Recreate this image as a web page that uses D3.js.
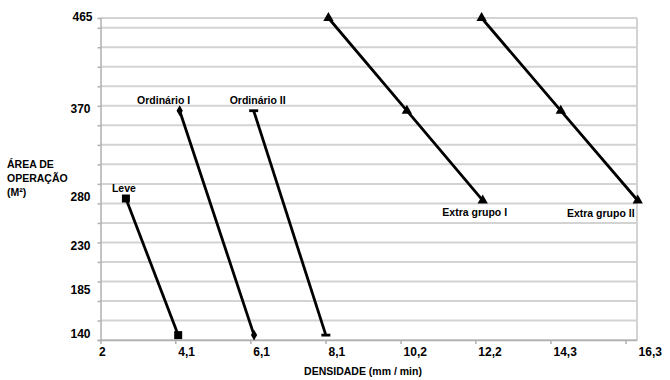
<!DOCTYPE html>
<html>
<head>
<meta charset="utf-8">
<script src="https://d3js.org/d3.v7.min.js"></script>
<style>
  body { margin: 0; background: #fff; }
  svg { font-family: "Liberation Sans", Arial, sans-serif; }
  .tick-label { font-size: 12px; font-weight: bold; fill: #000; }
  .axis-title, .series-label { font-size: 10.5px; font-weight: bold; fill: #000; }
</style>
</head>
<body>
<svg id="chart"></svg>
<script>
// series: densidade (mm/min) and área (m²)
const seriesNames = ['Leve', 'Ordinário I', 'Ordinário II', 'Extra grupo I', 'Extra grupo II'];
const seriesDensity = [
  [2.73, 4.15],
  [4.19, 6.21],
  [6.20, 8.16],
  [8.23, 10.36, 12.42],
  [12.39, 14.54, 16.63]
];
const seriesArea = [
  [280, 140],
  [370, 140],
  [370, 140],
  [465, 370, 278],
  [465, 370, 278]
];
const seriesMarkers = ['square', 'diamond', 'dash', 'triangle', 'triangle'];

const xTickValues = [2.04, 4.07, 6.11, 8.15, 10.19, 12.22, 14.26, 16.30];
const xTickLabels = ['2', '4,1', '6,1', '8,1', '10,2', '12,2', '14,3', '16,3'];
const yTickValues = [140, 185, 230, 280, 370, 465];
const yTickLabels = ['140', '185', '230', '280', '370', '465'];
const xDomain = [2.04, 16.61];
const yDomain = [135, 465];
const yGridStep = 20;

class DensityChart {

  constructor(_config) {
    this.config = {
      parentElement: _config.parentElement,
      containerWidth: _config.containerWidth || 670,
      containerHeight: _config.containerHeight || 380,
      margin: _config.margin || {top: 18, right: 33, bottom: 40, left: 100.5}
    }
    this.initVis();
  }

  initVis() {
    let vis = this;

    vis.width = vis.config.containerWidth - vis.config.margin.left - vis.config.margin.right;
    vis.height = vis.config.containerHeight - vis.config.margin.top - vis.config.margin.bottom;

    vis.xScale = d3.scaleLinear()
        .domain(xDomain)
        .range([0, vis.width]);

    vis.yScale = d3.scaleLinear()
        .domain(yDomain)
        .range([vis.height, 0]);

    vis.svg = d3.select(vis.config.parentElement)
        .attr('width', vis.config.containerWidth)
        .attr('height', vis.config.containerHeight);

    vis.chart = vis.svg.append('g')
        .attr('transform', `translate(${vis.config.margin.left},${vis.config.margin.top})`);

    // horizontal gridlines every 20 m² from the bottom of the axis
    const gridValues = d3.range(yDomain[0], yDomain[1], yGridStep);
    vis.chart.append('g')
        .attr('class', 'grid')
      .selectAll('line')
      .data(gridValues.concat([yDomain[1]]))
      .join('line')
        .attr('x1', 0)
        .attr('x2', vis.width)
        .attr('y1', d => vis.yScale(d))
        .attr('y2', d => vis.yScale(d))
        .attr('stroke', '#d3d3d3')
        .attr('stroke-width', 2);

    // right border of the plot area
    vis.chart.append('line')
        .attr('x1', vis.width).attr('x2', vis.width)
        .attr('y1', 0).attr('y2', vis.height)
        .attr('stroke', '#d3d3d3')
        .attr('stroke-width', 2);

    vis.yAxisG = vis.chart.append('g')
        .call(d3.axisLeft(vis.yScale).tickValues(gridValues).tickSize(3).tickFormat(''))
        .call(g => g.selectAll('line, path').attr('stroke', '#b0b0b0').attr('stroke-width', 1.5));

    vis.xAxisG = vis.chart.append('g')
        .attr('transform', `translate(0,${vis.height})`)
        .call(d3.axisBottom(vis.xScale).tickValues(xTickValues).tickSize(4).tickSizeOuter(0).tickFormat(''))
        .call(g => g.selectAll('line, path').attr('stroke', '#b0b0b0').attr('stroke-width', 1.5));

    // tick labels
    vis.chart.append('g')
      .selectAll('text')
      .data(xTickValues)
      .join('text')
        .attr('class', 'tick-label')
        .attr('x', (d, i) => vis.xScale(d) + (i === 0 ? -1.5 : i === xTickValues.length - 1 ? 13 : 3))
        .attr('y', vis.height + 16)
        .text((d, i) => xTickLabels[i]);

    vis.chart.append('g')
      .selectAll('text')
      .data(yTickValues)
      .join('text')
        .attr('class', 'tick-label')
        .attr('text-anchor', 'end')
        .attr('x', (d, i) => i === yTickValues.length - 1 ? -8 : -10)
        .attr('y', d => vis.yScale(d) + 2.5)
        .text((d, i) => yTickLabels[i]);

    // axis titles
    vis.svg.append('text')
        .attr('class', 'axis-title')
        .attr('x', 363)
        .attr('y', 375)
        .attr('text-anchor', 'middle')
        .text('DENSIDADE (mm / min)');

    const yTitle = vis.svg.append('text')
        .attr('class', 'axis-title')
        .attr('x', 7)
        .attr('y', 167.5);
    ['ÁREA DE', 'OPERAÇÃO', '(M²)'].forEach((t, i) => {
      yTitle.append('tspan').attr('x', 7).attr('dy', i === 0 ? 0 : 14.3).text(t);
    });

    vis.dataGroup = vis.chart.append('g');
  }

  renderVis() {
    let vis = this;

    const data = seriesNames.map((name, i) => ({
      name: name,
      marker: seriesMarkers[i],
      points: seriesDensity[i].map((x, j) => ({x: x, y: seriesArea[i][j]}))
    }));

    const line = d3.line()
        .x(d => vis.xScale(d.x))
        .y(d => vis.yScale(d.y));

    vis.dataGroup.selectAll('.series-line')
        .data(data)
      .join('path')
        .attr('class', 'series-line')
        .attr('fill', 'none')
        .attr('stroke', '#000')
        .attr('stroke-width', 2.8)
        .attr('d', d => line(d.points));

    const dash = {
      draw(context, size) {
        context.rect(-4.5, -1.4, 9, 2.8);
      }
    };
    const symbolTypes = {
      square: [d3.symbolSquare, 64],
      diamond: [d3.symbolDiamond, 34],
      dash: [dash, 1],
      triangle: [d3.symbolTriangle, 46]
    };

    vis.dataGroup.selectAll('.markers')
        .data(data)
      .join('g')
        .attr('class', 'markers')
      .selectAll('path')
      .data(d => d.points.map(p => ({p: p, marker: d.marker})))
      .join('path')
        .attr('transform', d => `translate(${vis.xScale(d.p.x)},${vis.yScale(d.p.y)})`)
        .attr('d', d => d3.symbol(symbolTypes[d.marker][0], symbolTypes[d.marker][1])())
        .attr('fill', '#000');

    // series labels, hung on one point of each line
    const labelAt = [
      {point: 0, dx: -2, dy: -7},
      {point: 0, dx: -16, dy: -7},
      {point: 0, dx: 4, dy: -7},
      {point: 2, dx: -8, dy: 15.5},
      {point: 2, dx: -37, dy: 16.5}
    ];

    vis.dataGroup.selectAll('.series-label')
        .data(data)
      .join('text')
        .attr('class', 'series-label')
        .attr('text-anchor', 'middle')
        .attr('x', (d, i) => vis.xScale(d.points[labelAt[i].point].x) + labelAt[i].dx)
        .attr('y', (d, i) => vis.yScale(d.points[labelAt[i].point].y) + labelAt[i].dy)
        .text(d => d.name);
  }
}

const chart = new DensityChart({parentElement: '#chart'});
chart.renderVis();
</script>
</body>
</html>
